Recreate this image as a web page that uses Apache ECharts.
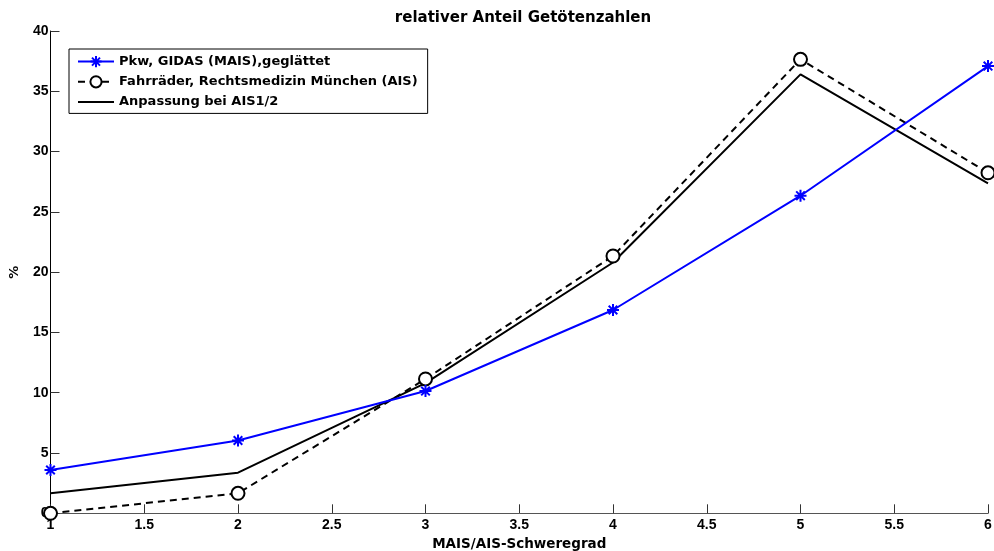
<!DOCTYPE html>
<html><head><meta charset="utf-8">
<script src="https://cdn.jsdelivr.net/npm/echarts@6/dist/echarts.min.js"></script>
<style>html,body{margin:0;padding:0;background:#fff}#c{width:994px;height:551px}</style>
</head><body><div id="c"></div>
<script>
const xValues = [1, 2, 3, 4, 5, 6];
const pkwValues = [3.59, 6.04, 10.14, 16.86, 26.34, 37.09];
const fahrradValues = [0, 1.66, 11.14, 21.34, 37.65, 28.24];
const anpassungValues = [1.66, 3.37, 10.8, 20.8, 36.4, 27.36];
const seriesNames = ['Pkw, GIDAS (MAIS),geglättet', 'Fahrräder, Rechtsmedizin München (AIS)', 'Anpassung bei AIS1/2'];
const titleText = 'relativer Anteil Getötenzahlen';
const xName = 'MAIS/AIS-Schweregrad';
const yName = '%';

const pair = v => xValues.map((x, i) => [x, v[i]]);
const fontA = '"Liberation Sans", Arial, sans-serif';
const fontW = '"DejaVu Sans", sans-serif';
const star = 'path://M0,-6L0,6M-6,0L6,0M-4.3,-4.3L4.3,4.3M-4.3,4.3L4.3,-4.3';

const chart = echarts.init(document.getElementById('c'));
chart.setOption({
  animation: false,
  backgroundColor: '#fff',
  title: { text: titleText, left: 518, textAlign: 'center', top: 6,
    textStyle: { fontFamily: fontW, fontSize: 15, fontWeight: 'bold', color: '#000' } },
  grid: { left: 50.5, right: 6, top: 31, bottom: 37.7, outerBoundsMode: 'none', containLabel: false },
  legend: {
    orient: 'vertical', left: 69, top: 49, itemWidth: 36, itemHeight: 14, itemGap: 7,
    symbolKeepAspect: true,
    padding: [6, 10, 5, 8], borderColor: '#000', borderWidth: 1, backgroundColor: '#fff',
    textStyle: { fontFamily: fontW, fontSize: 13, fontWeight: 'bold', color: '#000' },
    data: [
      { name: seriesNames[0] },
      { name: seriesNames[1] },
      { name: seriesNames[2], icon: 'path://M0,0L36,0L36,2L0,2Z' }
    ]
  },
  xAxis: {
    type: 'value', min: 1, max: 6, interval: 0.5,
    name: xName, nameLocation: 'middle', nameGap: 18,
    nameTextStyle: { fontFamily: fontW, fontSize: 13.5, fontWeight: 'bold', color: '#000' },
    axisLine: { lineStyle: { color: '#555', width: 1 } },
    axisTick: { inside: true, length: 9, lineStyle: { color: '#333' } },
    axisLabel: { fontFamily: fontA, fontSize: 14, fontWeight: 'bold', color: '#000', margin: 5 },
    splitLine: { show: false }
  },
  yAxis: {
    type: 'value', min: 0, max: 40, interval: 5,
    name: yName, nameLocation: 'middle', nameGap: 29, nameRotate: 90,
    nameTextStyle: { fontFamily: fontW, fontSize: 13, fontWeight: 'bold', color: '#000' },
    axisLine: { show: true, lineStyle: { color: '#000', width: 1 } },
    axisTick: { show: true, inside: true, length: 9, lineStyle: { color: '#333' } },
    axisLabel: { fontFamily: fontA, fontSize: 14, fontWeight: 'bold', color: '#000', margin: 2 },
    splitLine: { show: false }
  },
  series: [
    { name: seriesNames[0], type: 'line', data: pair(pkwValues), symbol: star, symbolSize: 12,
      lineStyle: { color: '#0000ff', width: 2 },
      itemStyle: { color: '#0000ff', borderColor: '#0000ff', borderWidth: 2 }, z: 3 },
    { name: seriesNames[1], type: 'line', data: pair(fahrradValues), symbol: 'emptyCircle', symbolSize: 13,
      lineStyle: { color: '#000', width: 2, type: [7, 5] },
      itemStyle: { color: '#000', borderColor: '#000', borderWidth: 1.8 }, z: 2 },
    { name: seriesNames[2], type: 'line', data: pair(anpassungValues), symbol: 'none',
      lineStyle: { color: '#000', width: 2 }, itemStyle: { color: '#000' }, z: 2 }
  ]
});
</script></body></html>
